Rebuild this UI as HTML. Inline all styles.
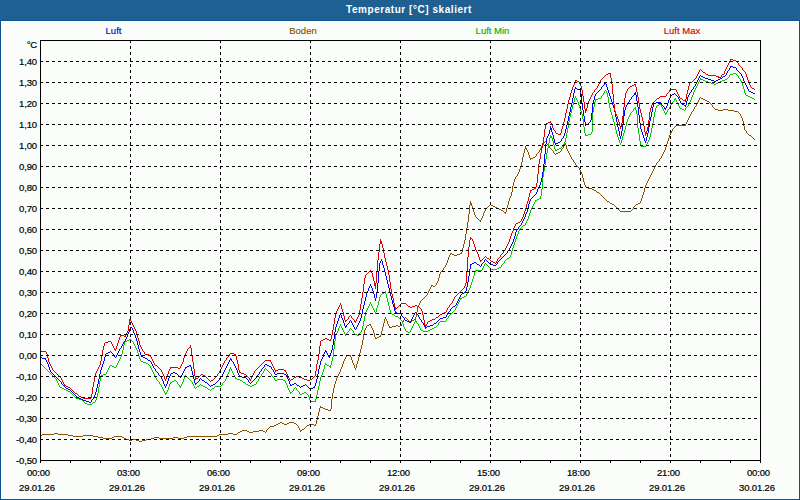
<!DOCTYPE html>
<html><head><meta charset="utf-8"><style>
*{margin:0;padding:0;box-sizing:border-box}
html,body{width:800px;height:500px;overflow:hidden;background:#fff}
body{position:relative;font-family:"Liberation Sans",sans-serif}
#inner{position:absolute;left:2px;top:22px;width:796px;height:476px;background:#fbfdfb}
#hdr{position:absolute;left:0;top:0;width:800px;height:20px;background:#1e6092}
#hl{position:absolute;left:0;top:20px;width:800px;height:1px;background:#0d5491}
#bl{position:absolute;left:0;top:20px;width:1px;height:480px;background:#0d5491}
#br{position:absolute;left:799px;top:20px;width:1px;height:480px;background:#0d5491}
#bb{position:absolute;left:0;top:499px;width:800px;height:1px;background:#0d5491}
#title{position:absolute;left:346px;top:3.5px;color:#fff;font-weight:bold;font-size:10px;letter-spacing:0.55px;white-space:nowrap;line-height:12px}
.lg{position:absolute;top:25px;width:120px;text-align:center;font-size:9.5px;line-height:12px;white-space:nowrap;-webkit-text-stroke:0.15px currentColor}
.yl{position:absolute;left:0;width:37px;text-align:right;font-size:9.5px;line-height:12px;color:#000;white-space:nowrap;letter-spacing:-0.15px;-webkit-text-stroke:0.2px #000}
.xl{position:absolute;width:120px;text-align:center;font-size:9.5px;line-height:12px;color:#000;white-space:nowrap;letter-spacing:-0.15px;-webkit-text-stroke:0.2px #000}
svg{position:absolute;left:0;top:0}
.g{stroke:#000;stroke-width:1;stroke-dasharray:3 3;fill:none}
.t{stroke:#000;stroke-width:1}
.f{stroke:#000;stroke-width:1;fill:none}
.s{fill:none;stroke-width:1;stroke-linecap:butt}
</style></head><body>
<div id="inner"></div><div id="hdr"></div><div id="hl"></div><div id="bl"></div><div id="br"></div><div id="bb"></div>
<div id="title">Temperatur [°C] skaliert</div>
<div class="lg" style="left:53.5px;color:#0000d0">Luft</div>
<div class="lg" style="left:243px;color:#885000">Boden</div>
<div class="lg" style="left:432.5px;color:#00b000">Luft Min</div>
<div class="lg" style="left:622px;color:#d00000">Luft Max</div>
<div class="yl" style="top:55.5px">1,40</div><div class="yl" style="top:76.5px">1,30</div><div class="yl" style="top:97.5px">1,20</div><div class="yl" style="top:118.5px">1,10</div><div class="yl" style="top:139.5px">1,00</div><div class="yl" style="top:160.5px">0,90</div><div class="yl" style="top:181.5px">0,80</div><div class="yl" style="top:202.5px">0,70</div><div class="yl" style="top:223.5px">0,60</div><div class="yl" style="top:244.5px">0,50</div><div class="yl" style="top:265.5px">0,40</div><div class="yl" style="top:286.5px">0,30</div><div class="yl" style="top:307.5px">0,20</div><div class="yl" style="top:328.5px">0,10</div><div class="yl" style="top:349.5px">0,00</div><div class="yl" style="top:370.5px">-0,10</div><div class="yl" style="top:391.5px">-0,20</div><div class="yl" style="top:412.5px">-0,30</div><div class="yl" style="top:433.5px">-0,40</div><div class="yl" style="top:454.5px">-0,50</div><div class="yl" style="top:39px">°C</div><div class="xl" style="left:-21.5px;top:467px">00:00</div><div class="xl" style="left:-23px;top:481.5px">29.01.26</div><div class="xl" style="left:68.5px;top:467px">03:00</div><div class="xl" style="left:67px;top:481.5px">29.01.26</div><div class="xl" style="left:158.5px;top:467px">06:00</div><div class="xl" style="left:157px;top:481.5px">29.01.26</div><div class="xl" style="left:248.5px;top:467px">09:00</div><div class="xl" style="left:247px;top:481.5px">29.01.26</div><div class="xl" style="left:338.5px;top:467px">12:00</div><div class="xl" style="left:337px;top:481.5px">29.01.26</div><div class="xl" style="left:428.5px;top:467px">15:00</div><div class="xl" style="left:427px;top:481.5px">29.01.26</div><div class="xl" style="left:518.5px;top:467px">18:00</div><div class="xl" style="left:517px;top:481.5px">29.01.26</div><div class="xl" style="left:608.5px;top:467px">21:00</div><div class="xl" style="left:607px;top:481.5px">29.01.26</div><div class="xl" style="left:698.5px;top:467px">00:00</div><div class="xl" style="left:697px;top:481.5px">30.01.26</div>
<svg width="800" height="500" viewBox="0 0 800 500" shape-rendering="crispEdges">
<path d="M42 434.5h12M58 434.5h10M219 434.5h9M233 434.5h4M676 125.5h10M98 437.5h5M112 437.5h2M122 437.5h2M154 437.5h5M173 437.5h5M184 437.5h3M367 325.5h2M396 325.5h2M400 325.5h2M620 211.5h11M607 201.5h2M525 148.5h2M470 204.5h2M612 204.5h2M636 204.5h2M73 436.5h10M93 436.5h5M114 436.5h8M187 436.5h30M328 410.5h3M594 190.5h2M491 205.5h2M597 192.5h2M242 430.5h5M259 430.5h4M300 430.5h2M346 355.5h5M586 187.5h2M501 210.5h2M493 206.5h2M495 207.5h2M718 110.5h5M728 110.5h6M139 441.5h3M40 435.5h2M68 435.5h5M83 435.5h10M217 435.5h2M103 438.5h9M124 438.5h2M151 438.5h3M159 438.5h14M178 438.5h6M389 327.5h3M280 422.5h2M289 422.5h5M703 99.5h2M54 433.5h4M228 433.5h5M431 285.5h2M126 439.5h3M132 439.5h4M146 439.5h5M276 424.5h2M284 424.5h3M309 424.5h5M240 431.5h2M247 431.5h2M253 431.5h6M263 431.5h2M270 426.5h4M556 153.5h2M412 320.5h2M749 135.5h2M450 253.5h2M460 253.5h2M470 203.5h2M610 203.5h2M638 203.5h2M129 440.5h3M136 440.5h3M142 440.5h4M278 423.5h2M282 423.5h2M287 423.5h2M294 423.5h2M705 100.5h2M323 408.5h2M274 425.5h2M307 425.5h2M314 425.5h2M325 409.5h3M533 157.5h2M564 144.5h2M238 432.5h2M249 432.5h4M452 254.5h2M457 254.5h3M497 208.5h2M701 98.5h2M715 109.5h3M723 109.5h5M558 152.5h2M392 326.5h4M398 326.5h2M504 212.5h2M454 255.5h3M479 220.5h2M302 429.5h2M588 188.5h4M433 286.5h2M414 319.5h2M530 158.5h3M369 324.5h2M379 336.5h2M499 209.5h2M320 407.5h3M375 338.5h2M592 189.5h2M734 111.5h4M707 101.5h2M377 337.5h2M465.5 234v6M657.5 162v1M404.5 318v2M669.5 135v3M358.5 357v4M370.5 325v1M469.5 205v9M350.5 356v1M512.5 186v6M381.5 331v4M470.5 201v2M580.5 170v2M351.5 357v3M599.5 193v1M343.5 361v3M417.5 307v5M339.5 372v2M464.5 240v4M550.5 148v1M484.5 211v2M476.5 217v1M668.5 138v3M688.5 118v2M644.5 188v4M408.5 320v1M519.5 169v3M583.5 178v4M354.5 365v3M614.5 205v1M357.5 361v3M511.5 192v4M648.5 179v2M566.5 145v4M524.5 149v4M472.5 206v3M436.5 283v2M483.5 213v3M416.5 312v5M609.5 202v1M362.5 340v5M448.5 257v3M385.5 317v2M667.5 141v3M382.5 327v4M687.5 120v2M318.5 412v4M503.5 211v1M363.5 334v6M374.5 333v4M527.5 150v2M333.5 388v5M468.5 214v8M334.5 384v4M660.5 158v1M366.5 326v2M447.5 260v3M568.5 151v2M744.5 126v4M549.5 146v2M745.5 130v1M475.5 215v2M664.5 150v2M428.5 291v2M640.5 201v2M506.5 208v4M699.5 98v2M487.5 207v1M342.5 364v3M443.5 268v2M463.5 244v4M330.5 409v1M691.5 112v2M510.5 196v2M543.5 143v2M420.5 301v2M423.5 298v1M523.5 153v4M518.5 172v2M695.5 106v1M652.5 171v2M439.5 274v4M341.5 367v2M415.5 317v2M361.5 345v4M579.5 168v2M582.5 174v4M553.5 151v2M268.5 428v1M514.5 179v3M605.5 199v1M435.5 285v1M537.5 153v1M403.5 320v2M686.5 122v2M530.5 159v1M743.5 121v5M751.5 136v1M643.5 192v3M365.5 328v2M466.5 228v6M353.5 363v2M513.5 182v4M647.5 181v2M522.5 157v5M467.5 222v6M356.5 364v4M305.5 427v1M578.5 167v1M663.5 152v2M384.5 319v4M430.5 287v2M317.5 416v4M710.5 103v1M642.5 195v3M482.5 216v2M364.5 330v4M442.5 270v1M462.5 248v4M509.5 198v3M521.5 162v4M419.5 303v2M552.5 150v1M332.5 393v6M670.5 133v2M478.5 219v1M615.5 206v1M410.5 322v1M659.5 159v2M694.5 107v2M651.5 173v2M340.5 369v3M352.5 360v3M709.5 102v1M563.5 146v2M631.5 210v1M634.5 206v1M427.5 293v2M320.5 406v1M373.5 330v3M525.5 146v2M690.5 114v2M402.5 322v2M746.5 131v2M698.5 100v2M747.5 133v1M360.5 349v4M316.5 420v4M517.5 174v2M540.5 148v2M474.5 212v3M529.5 155v3M666.5 144v3M331.5 399v10M355.5 368v2M266.5 430v2M646.5 183v2M359.5 353v4M380.5 335v1M641.5 198v3M536.5 154v2M481.5 218v2M665.5 147v3M581.5 172v2M505.5 213v1M600.5 194v1M571.5 157v2M712.5 105v2M486.5 208v1M713.5 107v1M445.5 265v2M383.5 323v4M673.5 128v1M438.5 278v3M473.5 209v3M450.5 254v1M662.5 154v2M319.5 408v4M429.5 289v2M300.5 431v1M742.5 118v3M645.5 185v3M753.5 138v1M596.5 191v1M489.5 205v1M336.5 378v3M539.5 150v2M425.5 296v1M315.5 424v1M516.5 176v1M570.5 155v2M650.5 175v2M265.5 432v1M562.5 148v1M406.5 318v1M693.5 109v2M554.5 153v1M633.5 207v2M606.5 200v1M387.5 321v3M508.5 201v4M422.5 299v1M555.5 154v1M304.5 428v1M697.5 102v2M296.5 424v1M528.5 152v3M689.5 116v2M520.5 166v3M418.5 305v2M441.5 271v1M507.5 205v3M711.5 104v1M573.5 160v2M738.5 112v1M335.5 381v3M661.5 156v2M405.5 317v1M685.5 124v1M656.5 163v2M752.5 137v1M565.5 143v1M299.5 428v2M480.5 221v1M338.5 374v2M401.5 324v1M444.5 267v1M569.5 153v2M437.5 281v2M561.5 149v2M741.5 116v2M346.5 356v1M672.5 129v2M616.5 207v1M547.5 144v1M748.5 134v1M696.5 104v2M617.5 208v1M515.5 177v2M440.5 272v2M298.5 426v2M488.5 206v1M424.5 297v1M546.5 142v2M675.5 126v1M601.5 195v1M306.5 426v1M542.5 145v1M388.5 324v2M602.5 196v1M431.5 286v1M389.5 326v1M538.5 152v1M345.5 357v2M740.5 114v2M572.5 159v1M655.5 165v2M575.5 163v2M545.5 141v1M714.5 108v1M576.5 165v1M337.5 376v2M407.5 319v1M754.5 139v1M671.5 131v2M471.5 205v1M411.5 321v1M267.5 429v1M564.5 145v1M658.5 161v1M635.5 205v1M585.5 185v2M237.5 433v1M490.5 204v1M654.5 167v2M297.5 425v1M619.5 210v1M541.5 146v2M574.5 162v1M449.5 255v2M674.5 127v1M526.5 149v1M567.5 149v2M372.5 328v2M739.5 113v1M548.5 145v1M584.5 182v3M603.5 197v1M344.5 359v2M604.5 198v1M649.5 177v2M618.5 209v1M446.5 263v2M426.5 295v1M485.5 209v2M461.5 252v1M560.5 151v1M544.5 142v1M371.5 326v2M577.5 166v1M653.5 169v2M386.5 319v2M269.5 427v1M535.5 156v1M632.5 209v1M421.5 300v1M477.5 218v1M551.5 149v1M409.5 321v1M700.5 97v1M375.5 337v1M692.5 111v1" stroke="#885000" class="s"/><path d="M406 331.5h2M423 331.5h5M170 382.5h2M243 382.5h2M634 108.5h2M680 108.5h2M246 384.5h2M254 384.5h2M708 82.5h3M718 82.5h2M641 146.5h5M103 374.5h3M235 378.5h2M598 98.5h3M752 98.5h2M66 390.5h2M112 366.5h2M329 366.5h2M703 80.5h2M722 80.5h3M746 95.5h2M310 401.5h6M129 339.5h2M64 389.5h2M208 389.5h2M60 387.5h2M205 387.5h2M68 391.5h2M174 380.5h2M240 380.5h2M275 380.5h2M283 380.5h2M325 364.5h2M714 84.5h2M110 365.5h2M327 365.5h2M462 297.5h2M408 332.5h2M434 327.5h2M430 329.5h2M537 199.5h2M201 385.5h2M248 385.5h2M252 385.5h2M750 97.5h2M497 268.5h2M748 96.5h2M237 379.5h3M277 379.5h6M475 270.5h7M499 267.5h2M141 361.5h2M595 99.5h3M674 99.5h2M682 109.5h2M557 149.5h2M62 388.5h2M212 388.5h2M165 393.5h2M302 393.5h2M76 398.5h3M79 399.5h3M179 386.5h2M197 386.5h2M203 386.5h2M215 386.5h6M250 386.5h2M345 334.5h2M355 334.5h2M185 376.5h2M421 330.5h2M428 330.5h2M550 137.5h2M172 381.5h2M101 375.5h2M290 392.5h2M304 392.5h2M705 81.5h3M720 81.5h2M114 367.5h2M657 105.5h2M700 79.5h3M725 79.5h2M125 341.5h2M384 292.5h2M432 328.5h2M392 314.5h2M85 403.5h2M146 363.5h2M491 269.5h6M415 321.5h2M440 321.5h6M711 83.5h3M716 83.5h2M585 135.5h3M588 134.5h3M382 293.5h2M395 316.5h3M659 104.5h2M730 74.5h3M555 150.5h2M300 394.5h2M559 148.5h2M127 340.5h2M93 402.5h2M665 113.5h2M539 198.5h2M535 200.5h2M357 335.5h2M87 404.5h5M143 362.5h3M464 296.5h2M550 136.5h2M460 298.5h2M733 73.5h3M523 225.5h2M507 258.5h2M641.5 145v1M653.5 117v6M510.5 255v2M685.5 108v2M160.5 384v1M635.5 107v1M635.5 109v1M233.5 373v2M514.5 242v3M363.5 321v5M593.5 107v5M627.5 119v3M471.5 282v3M615.5 126v4M666.5 112v1M378.5 301v4M470.5 285v3M320.5 377v4M542.5 177v12M289.5 390v2M262.5 373v1M474.5 272v4M324.5 365v4M390.5 310v3M323.5 369v3M578.5 102v3M106.5 372v2M570.5 113v4M296.5 388v2M546.5 153v6M592.5 112v20M654.5 112v5M134.5 344v2M612.5 115v4M163.5 389v2M297.5 390v1M98.5 387v6M258.5 379v2M331.5 361v4M742.5 83v3M608.5 97v6M42.5 365v1M565.5 138v4M379.5 297v4M638.5 128v6M649.5 137v3M347.5 332v1M335.5 335v6M745.5 93v2M611.5 112v3M339.5 326v2M362.5 326v4M604.5 91v2M449.5 315v1M584.5 127v6M319.5 381v5M438.5 323v2M573.5 102v3M458.5 302v2M386.5 294v4M561.5 147v1M637.5 114v14M528.5 216v3M389.5 306v4M482.5 268v2M122.5 350v4M137.5 350v3M692.5 95v2M292.5 391v1M541.5 189v7M684.5 110v1M545.5 159v6M170.5 383v1M273.5 377v1M489.5 267v1M411.5 328v2M148.5 364v1M56.5 379v2M140.5 359v2M512.5 248v3M151.5 368v2M469.5 288v2M322.5 372v3M516.5 236v3M152.5 370v2M334.5 341v8M473.5 276v3M574.5 98v4M529.5 213v3M553.5 141v4M669.5 107v2M521.5 227v1M167.5 390v2M265.5 368v1M288.5 388v2M97.5 393v4M374.5 310v2M266.5 369v1M626.5 122v4M193.5 384v2M648.5 140v2M155.5 376v2M517.5 234v2M338.5 328v3M618.5 137v3M158.5 381v1M544.5 165v6M261.5 374v2M580.5 108v3M737.5 75v1M234.5 375v2M317.5 390v5M159.5 382v2M222.5 383v2M640.5 141v4M603.5 93v2M231.5 369v2M581.5 111v3M549.5 138v5M457.5 304v2M569.5 117v5M121.5 354v3M676.5 100v2M741.5 81v2M287.5 385v3M333.5 349v8M330.5 365v1M330.5 367v1M679.5 106v2M353.5 331v2M101.5 376v1M691.5 97v3M564.5 142v2M610.5 108v4M354.5 333v1M185.5 375v1M672.5 102v2M744.5 89v4M468.5 290v2M694.5 90v2M410.5 330v2M535.5 201v1M453.5 311v1M511.5 251v4M621.5 140v3M132.5 341v1M161.5 385v2M376.5 308v4M318.5 386v4M364.5 316v5M361.5 330v2M298.5 391v1M740.5 79v2M415.5 320v1M133.5 342v2M388.5 302v4M448.5 316v2M162.5 387v2M299.5 392v2M531.5 208v2M527.5 219v2M568.5 122v6M44.5 367v1M391.5 313v1M402.5 321v3M652.5 123v5M139.5 356v3M169.5 384v3M591.5 132v2M472.5 279v3M365.5 312v4M92.5 403v1M321.5 375v2M552.5 138v3M515.5 239v3M377.5 305v3M607.5 93v4M325.5 363v1M199.5 385v1M191.5 381v1M120.5 357v2M349.5 329v2M109.5 366v2M150.5 366v2M192.5 382v2M184.5 377v2M153.5 372v2M264.5 369v2M548.5 143v5M70.5 392v1M583.5 119v8M693.5 92v3M214.5 387v1M639.5 134v7M230.5 367v2M543.5 171v6M651.5 128v5M337.5 331v2M698.5 82v2M620.5 143v2M414.5 322v2M675.5 98v1M294.5 388v1M286.5 383v2M582.5 114v5M526.5 221v2M575.5 96v2M100.5 377v4M456.5 306v2M530.5 210v3M268.5 371v1M616.5 130v4M636.5 110v4M690.5 100v2M617.5 134v3M739.5 78v1M168.5 387v3M467.5 292v2M579.5 105v3M594.5 102v5M375.5 312v2M518.5 231v3M245.5 383v1M50.5 373v1M624.5 130v3M609.5 103v5M348.5 331v1M547.5 148v5M567.5 128v5M224.5 381v1M416.5 322v1M99.5 381v6M96.5 397v3M606.5 91v2M417.5 323v1M229.5 369v3M387.5 298v4M554.5 145v4M336.5 333v2M83.5 401v1M401.5 320v1M138.5 353v3M555.5 149v1M293.5 389v2M455.5 308v2M84.5 402v1M525.5 223v2M571.5 109v4M119.5 359v2M316.5 395v4M689.5 102v2M655.5 108v4M183.5 379v3M123.5 345v5M332.5 357v4M419.5 326v2M344.5 332v2M371.5 304v2M509.5 257v1M566.5 133v5M420.5 328v2M466.5 294v2M533.5 204v2M650.5 133v4M513.5 245v3M662.5 107v2M447.5 318v1M697.5 84v2M413.5 324v2M623.5 133v3M95.5 400v2M619.5 140v3M285.5 381v2M485.5 263v1M227.5 374v3M404.5 327v2M72.5 394v1M118.5 361v2M315.5 399v2M107.5 370v2M182.5 382v2M501.5 265v2M228.5 372v2M532.5 206v2M52.5 375v1M622.5 136v4M696.5 86v2M53.5 376v1M385.5 291v1M385.5 293v1M343.5 330v2M668.5 109v1M550.5 135v1M688.5 104v2M310.5 400v1M520.5 228v1M177.5 382v2M166.5 392v1M661.5 105v2M178.5 384v1M446.5 319v2M504.5 261v2M345.5 335v1M577.5 100v2M630.5 113v2M370.5 302v2M664.5 111v2M656.5 106v2M196.5 387v1M484.5 264v2M540.5 196v2M452.5 312v1M117.5 363v2M360.5 332v1M211.5 389v1M667.5 110v2M614.5 122v4M181.5 384v2M699.5 80v2M40.5 363v1M165.5 394v1M487.5 265v1M671.5 104v1M41.5 364v1M488.5 266v1M695.5 88v2M403.5 324v3M625.5 126v4M629.5 115v2M369.5 304v2M188.5 378v1M519.5 229v2M136.5 348v2M729.5 75v2M459.5 300v2M341.5 326v2M55.5 378v1M646.5 144v2M59.5 385v2M342.5 328v2M483.5 266v2M154.5 374v2M309.5 397v3M503.5 263v1M176.5 381v1M736.5 74v1M380.5 295v2M116.5 365v2M180.5 387v1M394.5 315v1M226.5 377v2M58.5 383v2M670.5 105v2M576.5 98v2M156.5 378v2M157.5 380v1M613.5 119v3M743.5 86v3M572.5 105v4M475.5 271v1M678.5 104v2M124.5 342v3M522.5 226v1M131.5 340v1M270.5 373v1M368.5 306v2M454.5 310v1M135.5 346v2M727.5 78v1M164.5 391v2M628.5 117v2M271.5 374v2M274.5 378v2M340.5 324v2M43.5 366v1M307.5 394v1M490.5 268v1M225.5 379v2M308.5 395v2M585.5 133v2M259.5 377v2M359.5 333v2M412.5 326v2M673.5 101v1M190.5 380v1M57.5 381v2M194.5 386v2M700.5 78v1M451.5 313v1M738.5 76v2M232.5 371v2M351.5 329v1M677.5 102v2M534.5 202v2M49.5 372v1M367.5 308v2M295.5 387v1M235.5 377v1M82.5 400v1M400.5 319v1M75.5 397v1M687.5 106v1M272.5 376v1M74.5 396v1M346.5 333v1M366.5 310v2M210.5 390v1M352.5 330v1M373.5 308v2M195.5 388v1M257.5 381v1M437.5 325v1M754.5 99v1M108.5 368v2M51.5 374v1M633.5 109v2M502.5 264v1M595.5 100v2M418.5 324v2M260.5 376v1M207.5 388v1M149.5 365v1M663.5 109v2M728.5 77v1M460.5 299v1M563.5 144v1M256.5 382v2M647.5 142v2M372.5 306v2M221.5 385v1M602.5 95v1M665.5 114v1M267.5 370v1M505.5 260v1M187.5 377v1M486.5 264v1M263.5 371v2M631.5 112v1M405.5 329v2M601.5 96v2M605.5 90v1M450.5 314v1M562.5 145v2M45.5 368v1M46.5 369v1M381.5 294v1M269.5 372v1M71.5 393v1M686.5 107v1M223.5 382v1M189.5 379v1M306.5 393v1M350.5 328v1M674.5 100v1M242.5 381v1M200.5 384v1M47.5 370v1M48.5 371v1M436.5 326v1M506.5 259v1M398.5 317v1M290.5 393v1M73.5 395v1M399.5 318v1M632.5 111v1M54.5 377v1M179.5 385v1M439.5 322v1" stroke="#00c800" class="s"/><path d="M440 318.5h3M434 323.5h2M682 104.5h2M275 374.5h2M284 374.5h2M654 103.5h2M470 264.5h2M477 264.5h2M490 264.5h3M325 351.5h2M464 292.5h2M205 382.5h2M585 124.5h3M701 76.5h2M723 76.5h2M195 383.5h2M294 383.5h2M462 293.5h2M550 128.5h2M211 385.5h2M290 385.5h2M297 385.5h2M303 385.5h2M443 317.5h3M558 142.5h2M213 384.5h2M292 384.5h2M242 377.5h4M407 321.5h2M664 108.5h2M493 265.5h3M430 325.5h3M749 91.5h2M634 93.5h2M753 93.5h2M474 262.5h2M187 366.5h2M269 366.5h2M106 353.5h2M202 380.5h2M185 367.5h2M656 102.5h5M550 129.5h2M86 401.5h3M130 327.5h2M425 327.5h2M751 92.5h2M265 364.5h2M472 263.5h2M301 386.5h2M684 105.5h2M395 312.5h2M141 356.5h2M328 356.5h2M189 365.5h2M267 365.5h2M703 77.5h2M89 402.5h2M577 89.5h4M81 399.5h2M708 79.5h3M718 79.5h2M634 94.5h2M672 94.5h2M733 67.5h3M42 358.5h4M145 358.5h2M405 320.5h2M705 78.5h3M720 78.5h2M453 306.5h2M148 360.5h2M171 373.5h2M175 373.5h2M277 373.5h7M313 387.5h2M714 81.5h2M40 357.5h2M143 357.5h2M239 376.5h3M730 66.5h3M345 326.5h2M427 326.5h3M575 88.5h2M173 372.5h2M409 322.5h2M83 400.5h3M604 83.5h2M68 389.5h2M79 398.5h2M711 80.5h3M716 80.5h2M397 313.5h4M555 143.5h3M66 388.5h2M311 388.5h2M230 359.5h2M108 352.5h2M77 397.5h2M138.5 345v4M391.5 296v4M404.5 318v2M632.5 96v1M537.5 189v3M571.5 103v4M99.5 374v5M627.5 103v2M331.5 350v3M394.5 307v4M367.5 291v2M194.5 379v4M624.5 110v6M61.5 382v2M390.5 292v4M649.5 121v6M251.5 382v1M566.5 125v4M209.5 385v1M521.5 223v2M393.5 304v3M466.5 287v4M412.5 317v2M315.5 383v3M343.5 320v3M446.5 315v2M582.5 104v6M49.5 367v3M526.5 212v2M688.5 95v2M538.5 187v2M575.5 87v1M574.5 89v4M387.5 280v4M332.5 345v5M368.5 288v3M262.5 368v1M542.5 172v6M638.5 107v8M380.5 261v2M669.5 98v2M541.5 178v4M103.5 361v3M383.5 265v3M167.5 381v3M362.5 309v5M570.5 107v5M190.5 366v1M72.5 392v1M327.5 353v2M95.5 392v3M296.5 384v1M288.5 379v2M619.5 131v5M319.5 365v4M316.5 379v4M593.5 100v4M386.5 276v4M378.5 271v12M623.5 116v8M618.5 127v4M727.5 71v2M91.5 400v2M641.5 129v3M197.5 382v1M653.5 104v3M650.5 117v4M53.5 374v1M581.5 94v10M592.5 104v9M635.5 92v1M246.5 378v1M363.5 305v4M204.5 381v1M644.5 138v3M615.5 112v5M98.5 379v5M227.5 364v2M247.5 379v1M691.5 90v2M608.5 90v3M379.5 263v8M648.5 127v6M645.5 141v2M565.5 129v4M482.5 263v1M748.5 89v2M323.5 354v3M314.5 386v1M661.5 103v2M335.5 327v5M745.5 83v2M622.5 124v7M546.5 138v6M339.5 315v3M687.5 97v4M330.5 353v3M584.5 116v6M612.5 102v3M415.5 312v1M668.5 100v3M536.5 192v2M573.5 93v5M470.5 265v4M605.5 82v1M626.5 105v2M152.5 364v2M528.5 204v4M366.5 293v4M102.5 364v3M357.5 325v2M419.5 317v2M166.5 384v2M553.5 135v4M114.5 355v2M219.5 378v2M545.5 144v10M533.5 196v1M411.5 319v2M59.5 380v1M485.5 259v1M334.5 332v7M389.5 288v4M529.5 201v3M261.5 369v2M499.5 260v1M698.5 78v2M737.5 70v1M200.5 378v1M392.5 300v4M686.5 101v4M192.5 371v4M385.5 272v4M318.5 369v5M569.5 112v4M730.5 67v1M469.5 269v7M342.5 318v2M388.5 284v4M591.5 113v7M322.5 357v2M481.5 264v2M637.5 101v6M48.5 364v3M629.5 100v2M354.5 327v2M338.5 318v3M544.5 154v10M652.5 107v5M620.5 136v3M382.5 261v4M726.5 73v2M129.5 329v3M231.5 360v1M667.5 103v3M549.5 130v4M625.5 107v3M287.5 377v2M333.5 339v6M583.5 110v6M448.5 312v1M437.5 321v1M564.5 133v3M165.5 386v2M377.5 283v9M690.5 92v1M540.5 182v3M744.5 81v2M617.5 122v5M218.5 380v1M599.5 90v1M468.5 276v6M370.5 284v2M410.5 321v1M317.5 374v5M640.5 123v6M360.5 318v3M621.5 131v5M306.5 385v1M55.5 376v1M614.5 108v4M113.5 354v1M133.5 330v3M237.5 370v3M248.5 380v2M639.5 115v8M515.5 232v4M531.5 198v1M527.5 208v4M651.5 112v5M607.5 87v3M105.5 354v3M568.5 116v5M356.5 327v2M580.5 90v4M199.5 379v2M663.5 106v1M747.5 87v2M613.5 105v3M729.5 68v2M590.5 120v2M96.5 388v4M376.5 292v6M606.5 84v3M153.5 366v2M364.5 301v4M264.5 365v2M361.5 314v4M646.5 137v4M460.5 295v2M112.5 353v1M693.5 87v2M154.5 368v1M503.5 256v1M418.5 315v2M135.5 335v3M484.5 260v2M421.5 320v2M543.5 164v8M128.5 332v2M341.5 315v3M352.5 323v2M225.5 368v2M47.5 362v2M321.5 359v2M647.5 133v4M344.5 323v3M628.5 102v1M230.5 358v1M487.5 261v1M337.5 321v3M602.5 86v1M221.5 376v1M535.5 194v1M424.5 325v2M252.5 381v1M514.5 236v3M743.5 78v3M666.5 106v2M572.5 98v5M594.5 96v4M740.5 73v1M530.5 199v2M678.5 97v2M104.5 357v4M486.5 260v1M567.5 121v4M467.5 282v5M233.5 362v2M459.5 297v2M236.5 368v2M643.5 135v3M616.5 117v5M636.5 95v6M371.5 286v2M127.5 334v3M164.5 384v2M271.5 367v2M401.5 314v2M555.5 144v1M696.5 82v2M372.5 288v3M274.5 372v2M224.5 370v2M182.5 373v2M134.5 333v2M375.5 298v3M320.5 361v4M450.5 309v2M123.5 342v2M250.5 383v1M229.5 360v2M439.5 319v1M336.5 324v3M601.5 87v2M631.5 97v2M513.5 239v3M525.5 214v3M119.5 349v2M550.5 126v2M141.5 355v1M50.5 370v2M94.5 395v2M423.5 323v2M677.5 96v1M351.5 321v2M46.5 360v2M193.5 375v4M505.5 254v1M63.5 385v1M75.5 395v1M676.5 95v1M741.5 74v2M679.5 99v2M163.5 381v3M458.5 299v2M742.5 76v2M680.5 101v2M497.5 262v2M347.5 324v1M126.5 337v2M118.5 351v2M695.5 84v2M254.5 379v1M374.5 294v4M223.5 372v2M181.5 375v2M561.5 139v2M299.5 386v1M272.5 369v1M122.5 344v2M208.5 384v1M137.5 341v4M228.5 362v2M532.5 197v1M170.5 374v2M611.5 99v3M403.5 317v1M140.5 352v3M512.5 242v2M516.5 230v2M461.5 294v1M260.5 371v1M207.5 383v1M358.5 323v2M93.5 397v2M457.5 301v2M97.5 384v4M125.5 339v2M452.5 307v1M725.5 75v1M158.5 373v2M52.5 373v1M603.5 85v1M222.5 374v2M633.5 95v1M539.5 185v2M121.5 346v2M436.5 322v1M699.5 76v2M365.5 297v4M101.5 367v3M369.5 286v2M381.5 259v2M51.5 372v1M117.5 353v2M511.5 244v2M161.5 377v2M162.5 379v2M610.5 96v3M198.5 381v1M238.5 373v2M290.5 384v1M507.5 251v2M139.5 349v3M132.5 328v2M169.5 376v2M395.5 311v1M76.5 396v1M502.5 257v1M373.5 291v3M483.5 262v1M595.5 94v2M552.5 132v3M736.5 68v2M136.5 338v3M210.5 386v1M349.5 321v2M728.5 70v1M184.5 369v2M308.5 387v1M456.5 303v2M563.5 136v2M256.5 376v2M58.5 379v1M309.5 388v1M195.5 384v1M179.5 376v1M325.5 350v1M116.5 355v2M191.5 367v4M180.5 377v1M286.5 375v2M100.5 370v4M548.5 134v2M226.5 366v2M518.5 227v2M670.5 96v2M506.5 253v1M510.5 246v2M168.5 378v3M384.5 268v4M522.5 221v2M534.5 195v1M328.5 355v1M289.5 381v3M746.5 85v2M348.5 323v1M642.5 132v3M551.5 130v2M438.5 320v1M111.5 352v1M259.5 372v2M324.5 352v2M554.5 139v4M239.5 375v1M609.5 93v3M547.5 136v2M340.5 313v2M662.5 105v1M697.5 80v2M183.5 371v2M585.5 122v2M585.5 125v1M451.5 308v1M509.5 248v2M504.5 255v1M310.5 389v1M216.5 382v1M597.5 92v1M71.5 391v1M326.5 352v1M60.5 381v1M258.5 374v1M346.5 325v1M130.5 328v1M588.5 123v1M253.5 380v1M501.5 258v1M722.5 77v1M235.5 366v2M520.5 225v1M496.5 264v1M433.5 324v1M273.5 370v2M151.5 362v2M560.5 141v1M524.5 217v2M249.5 382v1M45.5 359v1M345.5 327v1M155.5 369v2M674.5 93v1M120.5 348v1M675.5 94v1M353.5 325v2M124.5 341v1M62.5 384v1M73.5 393v1M414.5 313v2M234.5 364v2M74.5 394v1M523.5 219v2M425.5 328v1M54.5 375v1M305.5 384v1M402.5 316v1M455.5 305v1M255.5 378v1M416.5 313v1M150.5 361v1M417.5 314v1M115.5 357v1M685.5 106v1M498.5 261v1M447.5 313v2M665.5 109v1M689.5 93v2M562.5 138v1M359.5 321v2M156.5 371v1M738.5 71v1M420.5 319v1M201.5 379v1M157.5 372v1M739.5 72v1M413.5 315v2M355.5 329v1M517.5 229v1M263.5 367v1M232.5 361v1M598.5 91v1M64.5 386v1M65.5 387v1M681.5 103v1M56.5 377v1M307.5 386v1M604.5 84v1M57.5 378v1M700.5 75v1M692.5 89v1M220.5 377v1M596.5 93v1M215.5 383v1M177.5 374v1M350.5 320v1M178.5 375v1M508.5 250v1M664.5 107v1M422.5 322v1M159.5 375v1M500.5 259v1M449.5 311v1M257.5 375v1M185.5 368v1M630.5 99v1M488.5 262v1M147.5 359v1M489.5 263v1M110.5 351v1M671.5 95v1M519.5 226v1M600.5 89v1M465.5 291v1M70.5 390v1M480.5 266v1M694.5 86v1M479.5 265v1M329.5 357v1M217.5 381v1M160.5 376v1M92.5 399v1M589.5 122v1M476.5 263v1M300.5 387v1" stroke="#0000ff" class="s"/><path d="M145 354.5h4M234 354.5h2M487 258.5h2M470 238.5h2M632 85.5h2M105 342.5h3M296 376.5h3M660 96.5h6M670 89.5h6M68 387.5h2M585 110.5h2M294 377.5h2M299 377.5h3M278 369.5h6M114 349.5h2M585 109.5h2M716 76.5h3M195 378.5h3M302 378.5h2M239 372.5h2M275 370.5h3M284 370.5h2M211 380.5h2M307 380.5h3M415 305.5h2M170 367.5h8M718 77.5h3M354 321.5h2M428 321.5h2M408 306.5h2M412 306.5h3M417 306.5h2M120 335.5h4M556 133.5h2M645 133.5h2M79 396.5h2M401 303.5h5M645 132.5h2M325 338.5h2M548 122.5h3M108 341.5h3M690 82.5h2M265 360.5h6M129 320.5h2M345 320.5h2M430 320.5h2M230 353.5h4M657 98.5h2M680 98.5h2M752 88.5h2M374 283.5h2M440 314.5h2M444 312.5h2M630 86.5h2M546 123.5h2M75 393.5h2M491 261.5h2M201 374.5h2M244 374.5h2M124 336.5h2M178 368.5h2M374 284.5h2M730 59.5h3M203 375.5h2M249 379.5h2M291 379.5h2M304 379.5h3M310 379.5h2M606 74.5h2M706 74.5h2M722 74.5h2M577 81.5h2M189 347.5h2M129 319.5h2M432 319.5h3M493 262.5h2M733 60.5h3M703 72.5h2M575 80.5h2M374 285.5h2M321 340.5h2M329 340.5h2M380 243.5h2M516 223.5h2M480 260.5h2M380 242.5h2M323 339.5h2M327 339.5h2M64 385.5h2M66 386.5h2M410 307.5h2M708 75.5h8M40 351.5h6M155 365.5h2M620 126.5h2M558 134.5h3M149 355.5h2M683 100.5h3M442 313.5h2M534 188.5h2M530 190.5h2M634 84.5h2M380 241.5h2M241 373.5h3M436 317.5h2M83 398.5h8M395 308.5h2M425 325.5h2M81 397.5h2M608 73.5h3M532 189.5h2M518 222.5h2M337.5 309v2M191.5 348v7M467.5 257v14M510.5 236v3M598.5 84v2M613.5 94v10M582.5 90v6M376.5 271v12M514.5 226v2M364.5 278v6M320.5 341v5M623.5 107v9M666.5 94v2M572.5 87v3M701.5 70v1M247.5 376v1M583.5 96v6M332.5 330v5M237.5 360v4M104.5 343v3M636.5 87v5M239.5 370v2M566.5 109v4M164.5 376v3M650.5 108v4M696.5 76v2M293.5 378v1M255.5 370v1M384.5 253v5M498.5 258v1M134.5 327v2M316.5 364v7M435.5 318v1M236.5 356v4M142.5 349v2M728.5 63v2M111.5 342v2M643.5 121v5M131.5 321v2M538.5 164v10M394.5 303v4M475.5 247v3M112.5 344v2M639.5 103v6M61.5 378v2M390.5 282v7M543.5 137v6M383.5 248v5M251.5 377v2M209.5 380v1M521.5 219v2M555.5 131v2M138.5 338v3M372.5 273v4M393.5 298v5M622.5 116v7M570.5 93v4M567.5 104v5M118.5 340v3M642.5 117v4M182.5 362v2M319.5 346v8M537.5 174v9M446.5 310v2M479.5 257v3M749.5 82v3M225.5 360v1M561.5 129v4M49.5 362v2M141.5 347v2M375.5 286v3M485.5 256v1M194.5 369v7M144.5 352v2M624.5 98v9M565.5 113v5M50.5 364v2M474.5 244v3M380.5 239v2M344.5 316v4M262.5 363v1M359.5 310v5M336.5 311v2M649.5 112v8M114.5 348v1M60.5 377v1M738.5 63v2M509.5 239v3M466.5 271v12M423.5 315v5M513.5 228v3M315.5 371v5M221.5 367v2M363.5 284v8M584.5 102v7M612.5 84v10M46.5 352v2M119.5 337v3M331.5 335v4M183.5 358v4M615.5 111v3M379.5 244v8M542.5 143v5M638.5 97v6M529.5 193v4M52.5 368v2M619.5 122v4M449.5 305v2M501.5 254v1M699.5 70v2M163.5 374v2M742.5 68v2M193.5 362v7M354.5 320v1M648.5 120v7M618.5 119v3M427.5 322v2M520.5 221v1M103.5 346v4M94.5 376v6M611.5 78v6M362.5 292v6M385.5 258v4M695.5 78v1M273.5 366v2M254.5 371v2M604.5 76v1M687.5 90v4M386.5 262v4M378.5 252v8M644.5 126v6M101.5 355v6M152.5 359v2M165.5 379v2M249.5 378v1M137.5 335v3M692.5 81v1M748.5 80v2M314.5 376v1M641.5 113v4M511.5 233v3M170.5 368v1M190.5 345v2M581.5 86v4M465.5 283v3M621.5 123v3M140.5 345v2M113.5 346v2M181.5 364v2M668.5 92v1M536.5 183v4M473.5 241v3M540.5 153v6M688.5 86v4M564.5 118v4M528.5 197v4M238.5 364v6M102.5 350v5M553.5 128v2M545.5 124v5M210.5 381v1M335.5 313v5M358.5 315v2M382.5 244v4M508.5 242v2M729.5 61v2M392.5 294v4M500.5 255v2M457.5 294v1M330.5 339v1M676.5 90v2M679.5 96v2M48.5 358v4M377.5 260v11M389.5 275v7M544.5 129v8M568.5 100v4M541.5 148v5M422.5 311v4M640.5 109v4M93.5 382v5M253.5 373v2M686.5 94v5M523.5 214v3M469.5 240v7M361.5 298v6M373.5 277v4M334.5 318v6M448.5 307v1M610.5 74v4M721.5 75v2M637.5 92v5M366.5 274v1M272.5 364v2M116.5 346v3M180.5 366v2M129.5 321v4M192.5 355v7M184.5 355v3M318.5 354v6M161.5 370v2M395.5 307v1M395.5 309v1M625.5 93v5M594.5 90v2M388.5 270v5M614.5 104v7M563.5 122v4M162.5 372v2M312.5 378v1M92.5 387v7M127.5 331v2M188.5 348v1M587.5 104v4M468.5 247v10M744.5 71v1M617.5 116v3M507.5 244v2M348.5 317v2M580.5 84v2M139.5 341v4M590.5 97v2M169.5 369v2M153.5 361v2M333.5 324v6M345.5 321v1M154.5 363v2M503.5 251v2M552.5 125v3M515.5 224v2M136.5 331v4M455.5 296v1M391.5 289v5M128.5 325v6M747.5 77v3M317.5 360v4M698.5 72v2M360.5 304v6M47.5 354v4M365.5 275v3M256.5 369v1M647.5 127v4M195.5 376v2M195.5 379v1M451.5 303v1M340.5 303v2M677.5 92v2M341.5 305v4M539.5 159v5M424.5 320v5M252.5 375v2M689.5 83v3M526.5 204v4M575.5 81v1M100.5 361v4M187.5 349v2M289.5 378v2M506.5 246v2M198.5 377v1M168.5 371v3M96.5 371v2M205.5 376v1M459.5 292v1M502.5 253v1M270.5 361v1M497.5 259v2M454.5 297v2M727.5 65v2M91.5 394v4M271.5 362v2M586.5 108v1M635.5 85v2M551.5 123v2M57.5 374v1M387.5 266v4M645.5 134v2M368.5 272v1M746.5 74v3M224.5 361v2M579.5 82v2M525.5 208v3M697.5 74v2M99.5 365v2M397.5 307v1M71.5 389v1M371.5 271v2M95.5 373v3M478.5 254v3M339.5 305v2M351.5 316v2M374.5 281v2M343.5 312v4M288.5 376v2M627.5 89v2M285.5 371v1M585.5 111v2M574.5 82v3M505.5 248v2M562.5 126v3M419.5 307v1M589.5 99v2M186.5 351v2M669.5 90v2M588.5 101v3M167.5 374v3M426.5 324v1M246.5 375v1M593.5 92v1M438.5 316v1M258.5 367v1M496.5 261v2M347.5 319v1M453.5 299v2M603.5 77v1M726.5 67v2M489.5 259v1M78.5 395v1M407.5 305v1M700.5 69v1M208.5 379v1M667.5 93v1M569.5 97v3M223.5 363v2M524.5 211v3M133.5 325v2M573.5 85v2M98.5 367v2M215.5 377v1M235.5 355v1M185.5 353v2M357.5 317v2M63.5 382v2M166.5 377v2M207.5 378v1M499.5 257v1M600.5 80v2M200.5 375v1M592.5 93v2M512.5 231v2M751.5 87v1M626.5 91v2M125.5 335v1M476.5 250v2M736.5 61v1M452.5 301v2M725.5 69v2M73.5 391v1M652.5 104v1M737.5 62v1M286.5 372v2M352.5 318v1M74.5 392v1M342.5 309v3M287.5 374v2M456.5 295v1M425.5 326v1M353.5 319v1M421.5 309v2M620.5 127v2M51.5 366v2M120.5 336v1M222.5 365v2M97.5 369v2M226.5 358v2M629.5 87v1M248.5 377v1M659.5 97v1M338.5 307v2M599.5 82v2M117.5 343v3M490.5 260v1M132.5 323v2M595.5 89v1M724.5 71v3M369.5 271v1M527.5 201v3M651.5 105v3M356.5 319v2M349.5 316v1M591.5 95v2M229.5 354v2M693.5 80v1M115.5 350v1M62.5 380v2M685.5 99v1M685.5 101v1M217.5 374v2M678.5 94v2M398.5 306v1M486.5 257v1M54.5 371v1M602.5 78v1M739.5 65v1M64.5 384v1M571.5 90v3M355.5 322v1M530.5 191v2M616.5 114v2M274.5 368v2M53.5 370v1M654.5 101v1M367.5 273v1M458.5 293v1M250.5 380v1M482.5 259v1M228.5 356v1M554.5 130v1M220.5 369v2M504.5 250v1M597.5 86v2M462.5 289v1M653.5 102v2M158.5 367v1M126.5 333v2M159.5 368v1M56.5 373v1M741.5 67v1M257.5 368v1M400.5 304v1M55.5 372v1M151.5 357v2M70.5 388v1M199.5 376v1M745.5 72v2M219.5 371v2M275.5 371v1M656.5 99v1M264.5 361v1M460.5 291v1M470.5 237v1M470.5 239v1M214.5 378v1M702.5 71v1M484.5 257v1M261.5 364v1M477.5 252v2M694.5 79v1M464.5 286v2M754.5 89v1M160.5 369v1M743.5 70v1M77.5 394v1M406.5 304v1M206.5 377v1M628.5 88v1M750.5 85v2M150.5 356v1M439.5 315v1M259.5 366v1M135.5 329v2M447.5 308v2M472.5 239v2M601.5 79v1M72.5 390v1M522.5 217v2M216.5 376v1M263.5 362v1M213.5 379v1M227.5 357v1M450.5 304v1M550.5 121v1M596.5 88v1M605.5 75v1M461.5 290v1M350.5 315v1M370.5 270v1M730.5 60v1M290.5 380v1M218.5 373v1M682.5 99v1M399.5 305v1M560.5 133v1M59.5 376v1M483.5 258v1M260.5 365v1M313.5 377v1M480.5 261v1M655.5 100v1M646.5 131v1M58.5 375v1M705.5 73v1M143.5 351v1M495.5 263v1M157.5 366v1M535.5 187v1M740.5 66v1M420.5 308v1M463.5 288v1" stroke="#dc0000" class="s"/><line x1="40" y1="61.5" x2="760" y2="61.5" class="g"/><line x1="40" y1="82.5" x2="760" y2="82.5" class="g"/><line x1="40" y1="103.5" x2="760" y2="103.5" class="g"/><line x1="40" y1="124.5" x2="760" y2="124.5" class="g"/><line x1="40" y1="145.5" x2="760" y2="145.5" class="g"/><line x1="40" y1="166.5" x2="760" y2="166.5" class="g"/><line x1="40" y1="187.5" x2="760" y2="187.5" class="g"/><line x1="40" y1="208.5" x2="760" y2="208.5" class="g"/><line x1="40" y1="229.5" x2="760" y2="229.5" class="g"/><line x1="40" y1="250.5" x2="760" y2="250.5" class="g"/><line x1="40" y1="271.5" x2="760" y2="271.5" class="g"/><line x1="40" y1="292.5" x2="760" y2="292.5" class="g"/><line x1="40" y1="313.5" x2="760" y2="313.5" class="g"/><line x1="40" y1="334.5" x2="760" y2="334.5" class="g"/><line x1="40" y1="355.5" x2="760" y2="355.5" class="g"/><line x1="40" y1="376.5" x2="760" y2="376.5" class="g"/><line x1="40" y1="397.5" x2="760" y2="397.5" class="g"/><line x1="40" y1="418.5" x2="760" y2="418.5" class="g"/><line x1="40" y1="439.5" x2="760" y2="439.5" class="g"/><line x1="130.5" y1="40" x2="130.5" y2="460" class="g"/><line x1="220.5" y1="40" x2="220.5" y2="460" class="g"/><line x1="310.5" y1="40" x2="310.5" y2="460" class="g"/><line x1="400.5" y1="40" x2="400.5" y2="460" class="g"/><line x1="490.5" y1="40" x2="490.5" y2="460" class="g"/><line x1="580.5" y1="40" x2="580.5" y2="460" class="g"/><line x1="670.5" y1="40" x2="670.5" y2="460" class="g"/><line x1="40.5" y1="460" x2="40.5" y2="463" class="t"/><line x1="70.5" y1="460" x2="70.5" y2="463" class="t"/><line x1="100.5" y1="460" x2="100.5" y2="463" class="t"/><line x1="130.5" y1="460" x2="130.5" y2="463" class="t"/><line x1="160.5" y1="460" x2="160.5" y2="463" class="t"/><line x1="190.5" y1="460" x2="190.5" y2="463" class="t"/><line x1="220.5" y1="460" x2="220.5" y2="463" class="t"/><line x1="250.5" y1="460" x2="250.5" y2="463" class="t"/><line x1="280.5" y1="460" x2="280.5" y2="463" class="t"/><line x1="310.5" y1="460" x2="310.5" y2="463" class="t"/><line x1="340.5" y1="460" x2="340.5" y2="463" class="t"/><line x1="370.5" y1="460" x2="370.5" y2="463" class="t"/><line x1="400.5" y1="460" x2="400.5" y2="463" class="t"/><line x1="430.5" y1="460" x2="430.5" y2="463" class="t"/><line x1="460.5" y1="460" x2="460.5" y2="463" class="t"/><line x1="490.5" y1="460" x2="490.5" y2="463" class="t"/><line x1="520.5" y1="460" x2="520.5" y2="463" class="t"/><line x1="550.5" y1="460" x2="550.5" y2="463" class="t"/><line x1="580.5" y1="460" x2="580.5" y2="463" class="t"/><line x1="610.5" y1="460" x2="610.5" y2="463" class="t"/><line x1="640.5" y1="460" x2="640.5" y2="463" class="t"/><line x1="670.5" y1="460" x2="670.5" y2="463" class="t"/><line x1="700.5" y1="460" x2="700.5" y2="463" class="t"/><line x1="730.5" y1="460" x2="730.5" y2="463" class="t"/><line x1="760.5" y1="460" x2="760.5" y2="463" class="t"/><rect x="40.5" y="40.5" width="720" height="420" class="f"/>
</svg>
</body></html>
